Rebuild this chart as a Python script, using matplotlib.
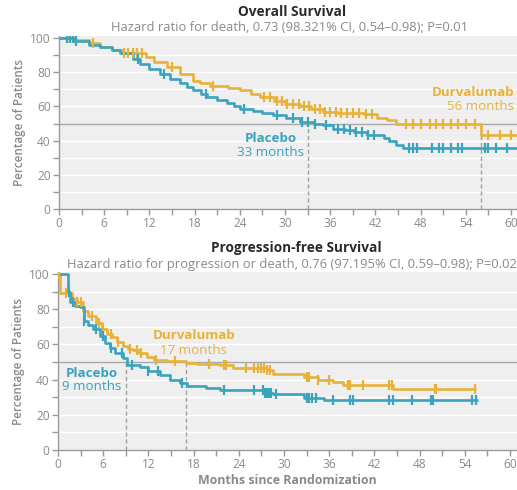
import numpy as np
import matplotlib
matplotlib.use("Agg")
import matplotlib.pyplot as plt
from matplotlib.ticker import MultipleLocator

plt.rcParams['font.family'] = ['Open Sans', 'DejaVu Sans']

GOLD = '#E8B23A'
TEAL = '#3AA3BE'
GRAY_TXT = '#8a8a8a'
BG = '#efefef'

# ---------------- Overall survival ----------------
os_durva_t = [0, 2, 4, 5.5, 7, 8.5, 11.5, 12.6, 14.3, 16, 17.8, 18.7, 20, 22.5, 24, 25.5,
              26.7, 28.5, 30, 32, 33.5, 35, 37, 40.5, 42.2, 43.5, 44.8, 56]
os_durva_s = [100, 99, 97, 95, 93, 91, 89, 86, 83, 79, 75, 73.5, 72, 71, 69.5, 67.5,
              65.5, 63, 61.5, 60, 58.5, 57, 56, 55.5, 53.5, 52, 50, 43]
os_durva_end = 61
os_durva_cens = [1, 1.5, 2.2, 4.5, 8.6, 9.2, 9.8, 10.4, 11, 15, 20.5, 27.2, 28, 29, 29.6, 30.3,
                 31, 31.8, 32.5, 33.2, 34, 34.6, 35.3, 36, 36.8, 37.5, 38.2, 39, 39.8, 40.8,
                 41.6, 46, 47, 48, 49.3, 50, 51, 52, 53, 54, 55.2, 57, 58.5, 60]

os_plac_t = [0, 2, 4, 5.4, 7, 8.1, 9.8, 10.8, 12, 13.4, 14.8, 16, 17, 17.8, 18.8, 19.6, 21,
             22.3, 23.2, 24, 25.8, 27, 28.4, 30.2, 32, 33.9, 35, 36.4, 38, 39.1, 40.9, 43.1,
             43.8, 44.8, 45.6]
os_plac_s = [100, 98, 96, 95, 93, 91, 88, 85, 82, 79, 76, 73.5, 71.5, 69.5, 67.5, 65.5, 63.5,
             62, 60, 58.5, 57.5, 56, 55, 53, 51, 50, 49, 47, 46, 45, 43, 41.3,
             39.5, 37.5, 35.5]
os_plac_end = 61
os_plac_cens = [1, 1.4, 1.8, 2.2, 10.5, 14, 19.5, 24.5, 29, 31, 32.2, 33, 34, 35.5, 37, 37.8,
                38.6, 39.4, 40.2, 41, 41.8, 46.5, 47, 47.5, 49.5, 50.5, 51, 52, 53, 53.5,
                56.5, 57, 58, 59.5]

# ---------------- Progression-free survival ----------------
pfs_durva_t = [0, 0.2, 1.8, 2.5, 3.3, 4, 5.1, 5.8, 6.5, 7.2, 7.8, 8.6, 9.3, 10, 10.8, 11.8,
               12.7, 14.5, 17, 18.5, 21.5, 23.2, 27.7, 28.6, 32.6, 34.5, 36.5, 37.8, 44.5]
pfs_durva_s = [100, 89, 86, 84, 79, 76, 72, 69, 66, 64, 61.5, 59, 57.5, 56.8, 55, 53,
               51, 50.5, 49.5, 48.8, 48.3, 46.5, 45.5, 43, 41.7, 40, 38.8, 37, 34.5]
pfs_durva_end = 55.5
pfs_durva_cens = [0.1, 1, 2.5, 3, 4.5, 5.5, 6, 7, 8, 9.5, 10.5, 11, 13, 15.5, 20, 22, 22.3,
                  25, 26, 26.5, 27, 27.3, 27.8, 28.2, 33, 33.3, 34.5, 36, 38.5, 38.8, 40.5,
                  44, 44.3, 50, 50.2, 55.3]

pfs_plac_t = [0, 1.3, 1.6, 2.2, 2.9, 3.4, 4, 4.7, 5.6, 6.3, 6.9, 7.6, 8.6, 9.1, 10.9, 11.9,
              13.5, 14.9, 16.2, 17.1, 19.7, 21.5, 27.3, 28.6, 32.7, 35.3]
pfs_plac_s = [100, 90, 84, 82, 81, 73, 71, 69, 65, 61, 58, 55, 52, 48.5, 47.3, 44.6,
              42.6, 40, 38.3, 36.4, 35.4, 34, 32.6, 31.6, 29.3, 28.4]
pfs_plac_end = 55.8
pfs_plac_cens = [1.5, 2, 3.5, 5, 6, 7, 8.5, 9.8, 12, 13.3, 16.5, 22, 26, 27.2, 27.5, 27.8,
                 28, 28.3, 29, 33, 33.3, 33.7, 34.2, 36.5, 38.8, 39.2, 44, 44.5, 47, 49.5,
                 49.8, 55, 55.5]

os_medians = [33, 56]
pfs_medians = [9, 17]

xticks = list(range(0, 61, 6))
yticks = list(range(0, 101, 20))

W, H = 517, 490
fig = plt.figure(figsize=(W / 100, H / 100), dpi=100)


def step_val(t, s, x):
    t = np.asarray(t)
    s = np.asarray(s)
    idx = np.searchsorted(t, x, side='right') - 1
    return s[np.clip(idx, 0, len(s) - 1)]


def km(ax, t, s, end, cens, color):
    tt = list(t) + [end]
    ss = list(s) + [s[-1]]
    ax.plot(tt, ss, drawstyle='steps-post', color=color, lw=1.9, solid_capstyle='butt', zorder=4)
    cx = np.asarray(cens)
    cy = step_val(t, s, cx)
    ax.plot(cx, cy, ls='none', marker='|', ms=6.5, mew=1.6, color=color, zorder=5)


def style(ax):
    ax.set_facecolor(BG)
    ax.set_xlim(0, 60.8)
    ax.set_ylim(0, 101)
    for v in range(10, 100, 10):
        if v != 50:
            ax.axhline(v, color='white', lw=1.0, zorder=1)
    ax.axhline(50, color='#a8a8a8', lw=1.0, zorder=2)
    for sp in ['top', 'right']:
        ax.spines[sp].set_visible(False)
    for sp in ['left', 'bottom']:
        ax.spines[sp].set_color('#9a9a9a')
        ax.spines[sp].set_linewidth(1.0)
    ax.set_xticks(xticks)
    ax.set_yticks(yticks)
    ax.xaxis.set_minor_locator(MultipleLocator(3))
    ax.yaxis.set_minor_locator(MultipleLocator(10))
    ax.tick_params(which='both', direction='out', color='#9a9a9a', labelcolor=GRAY_TXT,
                   labelsize=8.6, width=1.0)
    ax.tick_params(which='major', length=4, pad=2)
    ax.tick_params(which='minor', length=4)
    ax.set_ylabel('Percentage of Patients', color=GRAY_TXT, fontsize=8.4,
                  fontweight='semibold', labelpad=3)


LBL = 9.6

# top axes
ax1 = fig.add_axes([59 / W, (H - 209) / H, 1 - 59 / W, 172.7 / H])
style(ax1)
km(ax1, os_durva_t, os_durva_s, os_durva_end, os_durva_cens, GOLD)
km(ax1, os_plac_t, os_plac_s, os_plac_end, os_plac_cens, TEAL)
for m in os_medians:
    ax1.plot([m, m], [0, 50], ls=(0, (3, 2)), color='#a0a0a0', lw=1.0, zorder=3)
ax1.text(28.1, 41.5, 'Placebo', color=TEAL, fontsize=LBL, fontweight='bold', ha='center', va='center')
ax1.text(28.1, 33.0, '33 months', color=TEAL, fontsize=LBL, ha='center', va='center')
ax1.text(60.5, 68.0, 'Durvalumab', color=GOLD, fontsize=LBL, fontweight='bold', ha='right', va='center')
ax1.text(55.9, 59.8, '56 months', color=GOLD, fontsize=LBL, ha='center', va='center')

# bottom axes
ax2 = fig.add_axes([58 / W, (H - 450) / H, 1 - 58 / W, 177.8 / H])
style(ax2)
ax2.set_xlim(0, 60 * (W - 58) / (510 - 58))
km(ax2, pfs_durva_t, pfs_durva_s, pfs_durva_end, pfs_durva_cens, GOLD)
km(ax2, pfs_plac_t, pfs_plac_s, pfs_plac_end, pfs_plac_cens, TEAL)
for m in pfs_medians:
    ax2.plot([m, m], [0, 50], ls=(0, (3, 2)), color='#a0a0a0', lw=1.0, zorder=3)
ax2.text(18.0, 65.3, 'Durvalumab', color=GOLD, fontsize=LBL, fontweight='bold', ha='center', va='center')
ax2.text(18.0, 56.8, '17 months', color=GOLD, fontsize=LBL, ha='center', va='center')
ax2.text(4.5, 43.6, 'Placebo', color=TEAL, fontsize=LBL, fontweight='bold', ha='center', va='center')
ax2.text(4.5, 36.0, '9 months', color=TEAL, fontsize=LBL, ha='center', va='center')
ax2.set_xlabel('Months since Randomization', color=GRAY_TXT, fontsize=8.9,
               fontweight='bold', labelpad=2)

# titles
cx = 290 / W
fig.text(cx + 2 / W, 1 - 11.7 / H, 'Overall Survival', ha='center', va='center', fontsize=9.8,
         fontweight='bold', color='#2a2a2a')
fig.text(cx, 1 - 27.3 / H, 'Hazard ratio for death, 0.73 (98.321% CI, 0.54\u20130.98); P=0.01',
         ha='center', va='center', fontsize=9.4, color=GRAY_TXT)
fig.text(cx + 6 / W, 1 - 247.7 / H, 'Progression-free Survival', ha='center', va='center',
         fontsize=9.8, fontweight='bold', color='#2a2a2a')
fig.text(cx + 2 / W, 1 - 264.5 / H,
         'Hazard ratio for progression or death, 0.76 (97.195% CI, 0.59\u20130.98); P=0.02',
         ha='center', va='center', fontsize=9.4, color=GRAY_TXT)

fig.savefig('out.png', dpi=100)
